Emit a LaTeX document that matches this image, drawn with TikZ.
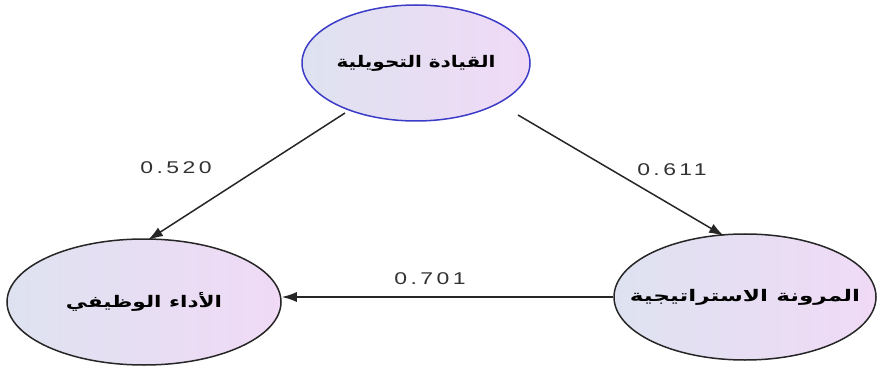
\documentclass[tikz,border=0pt]{standalone}
\usepackage{fontspec}
\usetikzlibrary{shapes.geometric,arrows.meta}
\TeXXeTstate=1
\newfontfamily\arabicfont[Script=Arabic]{DejaVu Sans}
\newfontfamily\numfont[LetterSpace=15]{Liberation Sans}
\definecolor{fillL}{RGB}{222,226,240}
\definecolor{fillR}{RGB}{240,218,246}
\definecolor{topedge}{RGB}{60,60,200}
\definecolor{numgray}{RGB}{50,50,50}
\tikzset{
  var/.style={ellipse, draw=black!85, line width=1.5pt, left color=fillL, right color=fillR, inner sep=0pt},
  arr/.style={-{Latex[length=15pt,width=10pt]}, draw=black!85, line width=1.5pt},
  coef/.style={font=\numfont\fontsize{17}{17}\selectfont, text=numgray, xscale=1.35},
  lab/.style={font=\arabicfont\bfseries\fontsize{16}{18}\selectfont}
}
\begin{document}
\begin{tikzpicture}[x=1pt,y=-1pt]
\useasboundingbox (0,0) rectangle (877,371);
\node[var, draw=topedge, minimum width=228pt, minimum height=116pt] (lead) at (416,63) {};
\node[lab, xscale=1.25] (leadT) at (lead) {\beginR القيادة التحويلية\endR};
\node[var, minimum width=274pt, minimum height=126pt] (perf) at (144,302) {};
\node[lab, xscale=1.35] (perfT) at (perf) {\beginR الأداء الوظيفي\endR};
\node[var, minimum width=262pt, minimum height=126pt] (flex) at (745,297) {};
\node[lab, xscale=1.45] (flexT) at (flex) {\beginR المرونة الاستراتيجية\endR};
\draw[arr] (lead) ++(-71,50) -- (148,240);
\draw[arr] (lead) ++(102,52) -- (724,236);
\draw[arr] (flex.west) -- (perf.east |- flex.west);
\node[coef] (c1) at (176,168) {0.520};
\node[coef] (c2) at (672,170) {0.611};
\node[coef] (c3) at (430,279) {0.701};
\end{tikzpicture}
\end{document}
